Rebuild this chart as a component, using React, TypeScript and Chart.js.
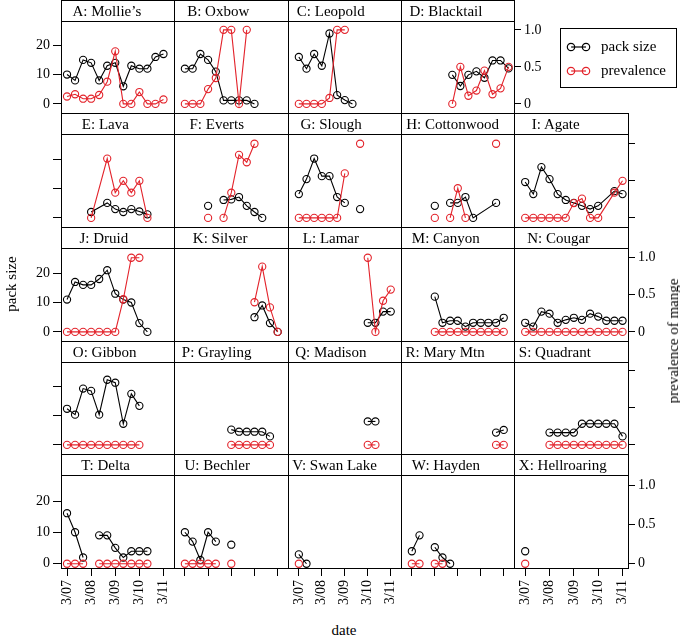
import React, { useEffect, useRef } from "react";
import { Chart, registerables } from "chart.js";
Chart.register(...registerables);

type Pt = [number, number] | null;

// survey sessions (month/year)
const SESSIONS = ["3/07", "7/07", "11/07", "3/08", "7/08", "11/08", "3/09", "7/09", "11/09", "3/10", "7/10", "11/10", "3/11"];
const X_TICK_LABELS = ["3/07", "3/08", "3/09", "3/10", "3/11"];
const PACK_TICKS = [0, 10, 20];
const PREV_TICKS = [0, 0.5, 1];
const PREV_TICK_LABELS = ["0", "0.5", "1.0"];

const PANEL_NAMES = ["A: Mollie’s", "B: Oxbow", "C: Leopold", "D: Blacktail", "E: Lava", "F: Everts", "G: Slough", "H: Cottonwood", "I: Agate", "J: Druid", "K: Silver", "L: Lamar", "M: Canyon", "N: Cougar", "O: Gibbon", "P: Grayling", "Q: Madison", "R: Mary Mtn", "S: Quadrant", "T: Delta", "U: Bechler", "V: Swan Lake", "W: Hayden", "X: Hellroaring"];

// [session index, value]; null = break in the line
const A_PACK: Pt[] = [[0, 10], [1, 8], [2, 15], [3, 14], [4, 8], [5, 13], [6, 14], [7, 6], [8, 13], [9, 12], [10, 12], [11, 16], [12, 17]];
const A_PREV: Pt[] = [[0, 0.1], [1, 0.13], [2, 0.07], [3, 0.07], [4, 0.12], [5, 0.3], [6, 0.71], [7, 0], [8, 0], [9, 0.16], [10, 0], [11, 0], [12, 0.06]];
const B_PACK: Pt[] = [[0, 12], [1, 12], [2, 17], [3, 15], [4, 11], [5, 1.2], [6, 1.2], [7, 1.2], [8, 1.2], [9, 0]];
const B_PREV: Pt[] = [[0, 0], [1, 0], [2, 0], [3, 0.2], [4, 0.35], [5, 1], [6, 1], [7, 0], [8, 1]];
const C_PACK: Pt[] = [[0, 16], [1, 12], [2, 17], [3, 13], [4, 24], [5, 3], [6, 1.3], [7, 0]];
const C_PREV: Pt[] = [[0, 0], [1, 0], [2, 0], [3, 0], [4, 0.08], [5, 1], [6, 1]];
const D_PACK: Pt[] = [[5, 9.9], [6, 6.1], [7, 9.9], [8, 11.1], [9, 8.9], [10, 14.8], [11, 14.8], [12, 12.1]];
const D_PREV: Pt[] = [[5, 0], [6, 0.5], [7, 0.11], [8, 0.18], [9, 0.45], [10, 0.13], [11, 0.21], [12, 0.5]];
const E_PACK: Pt[] = [[3, 2], [5, 5.1], [6, 3], [7, 2], [8, 3], [9, 2.2], [10, 1.2]];
const E_PREV: Pt[] = [[3, 0], [5, 0.8], [6, 0.34], [7, 0.5], [8, 0.34], [9, 0.5], [10, 0]];
const F_PACK: Pt[] = [[3, 4.1], null, [5, 6.1], [6, 6.3], [7, 7.1], [8, 4.1], [9, 2], [10, 0]];
const F_PREV: Pt[] = [[3, 0], null, [5, 0], [6, 0.34], [7, 0.85], [8, 0.75], [9, 1]];
const G_PACK: Pt[] = [[0, 8.1], [1, 13.2], [2, 20.2], [3, 14.2], [4, 14.2], [5, 7.1], [6, 5.1], null, [8, 3]];
const G_PREV: Pt[] = [[0, 0], [1, 0], [2, 0], [3, 0], [4, 0], [5, 0], [6, 0.6], null, [8, 1]];
const H_PACK: Pt[] = [[3, 4.1], null, [5, 5.1], [6, 5.1], [7, 7.1], [8, 0], [11, 5.1]];
const H_PREV: Pt[] = [[3, 0], null, [5, 0], [6, 0.4], [7, 0], null, [11, 1]];
const I_PACK: Pt[] = [[0, 12.2], [1, 8.1], [2, 17.3], [3, 13.2], [4, 8.1], [5, 6.1], [6, 5.1], [7, 4.1], [8, 3], [9, 4.1], [11, 9.1], [12, 8.1]];
const I_PREV: Pt[] = [[0, 0], [1, 0], [2, 0], [3, 0], [4, 0], [5, 0], [6, 0.2], [7, 0.26], [8, 0], [9, 0], [11, 0.34], [12, 0.5]];
const J_PACK: Pt[] = [[0, 11], [1, 17], [2, 16], [3, 16], [4, 18], [5, 21], [6, 13], [7, 11], [8, 10], [9, 3], [10, 0]];
const J_PREV: Pt[] = [[0, 0], [1, 0], [2, 0], [3, 0], [4, 0], [5, 0], [6, 0], [7, 0.44], [8, 1], [9, 1]];
const K_PACK: Pt[] = [[9, 5], [10, 9], [11, 3], [12, 0]];
const K_PREV: Pt[] = [[9, 0.4], [10, 0.88], [11, 0.33], [12, 0]];
const L_PACK: Pt[] = [[9, 3.1], [10, 3.1], [11, 6.9], [12, 6.9]];
const L_PREV: Pt[] = [[9, 1], [10, 0], [11, 0.42], [12, 0.57]];
const M_PACK: Pt[] = [[3, 12], [4, 3.1], [5, 3.8], [6, 3.8], [7, 1.8], [8, 3.1], [9, 3.1], [10, 3.1], [11, 3.1], [12, 4.8]];
const M_PREV: Pt[] = [[3, 0], [4, 0], [5, 0], [6, 0], [7, 0], [8, 0], [9, 0], [10, 0], [11, 0], [12, 0]];
const N_PACK: Pt[] = [[0, 3.1], [1, 1.8], [2, 6.9], [3, 6.2], [4, 3.1], [5, 4.1], [6, 4.8], [7, 4.1], [8, 6.2], [9, 5.2], [10, 3.8], [11, 3.8], [12, 3.8]];
const N_PREV: Pt[] = [[0, 0], [1, 0], [2, 0], [3, 0], [4, 0], [5, 0], [6, 0], [7, 0], [8, 0], [9, 0], [10, 0], [11, 0], [12, 0]];
const O_PACK: Pt[] = [[0, 12.3], [1, 10.3], [2, 19.2], [3, 18.4], [4, 10.3], [5, 22.2], [6, 21.2], [7, 7.2], [8, 17.4], [9, 13.3]];
const O_PREV: Pt[] = [[0, 0], [1, 0], [2, 0], [3, 0], [4, 0], [5, 0], [6, 0], [7, 0], [8, 0], [9, 0]];
const P_PACK: Pt[] = [[6, 5.2], [7, 4.5], [8, 4.5], [9, 4.5], [10, 4.5], [11, 2.9]];
const P_PREV: Pt[] = [[6, 0], [7, 0], [8, 0], [9, 0], [10, 0], [11, 0]];
const Q_PACK: Pt[] = [[9, 8], [10, 8]];
const Q_PREV: Pt[] = [[9, 0], [10, 0]];
const R_PACK: Pt[] = [[11, 4.2], [12, 5.1]];
const R_PREV: Pt[] = [[11, 0], [12, 0]];
const S_PACK: Pt[] = [[3, 4.2], [4, 4.2], [5, 4.2], [6, 4.2], [7, 7.2], [8, 7.2], [9, 7.2], [10, 7.2], [11, 7.2], [12, 2.9]];
const S_PREV: Pt[] = [[3, 0], [4, 0], [5, 0], [6, 0], [7, 0], [8, 0], [9, 0], [10, 0], [11, 0], [12, 0]];
const T_PACK: Pt[] = [[0, 16.2], [1, 10.1], [2, 2], null, [4, 9.1], [5, 9.1], [6, 5.1], [7, 2], [8, 4], [9, 4], [10, 4]];
const T_PREV: Pt[] = [[0, 0], [1, 0], [2, 0], null, [4, 0], [5, 0], [6, 0], [7, 0], [8, 0], [9, 0], [10, 0]];
const U_PACK: Pt[] = [[0, 10.1], [1, 7.1], [2, 1.2], [3, 10.1], [4, 7.1], null, [6, 6.1]];
const U_PREV: Pt[] = [[0, 0], [1, 0], [2, 0], [3, 0], [4, 0], null, [6, 0]];
const V_PACK: Pt[] = [[0, 3], [1, 0]];
const V_PREV: Pt[] = [[0, 0]];
const W_PACK: Pt[] = [[0, 4], [1, 9.1], null, [3, 5.3], [4, 2], [5, 0]];
const W_PREV: Pt[] = [[0, 0], [1, 0], null, [3, 0], [4, 0]];
const X_PACK: Pt[] = [[0, 4]];
const X_PREV: Pt[] = [[0, 0]];

const PACK_SERIES = [A_PACK, B_PACK, C_PACK, D_PACK, E_PACK, F_PACK, G_PACK, H_PACK, I_PACK, J_PACK, K_PACK, L_PACK, M_PACK, N_PACK, O_PACK, P_PACK, Q_PACK, R_PACK, S_PACK, T_PACK, U_PACK, V_PACK, W_PACK, X_PACK];
const PREV_SERIES = [A_PREV, B_PREV, C_PREV, D_PREV, E_PREV, F_PREV, G_PREV, H_PREV, I_PREV, J_PREV, K_PREV, L_PREV, M_PREV, N_PREV, O_PREV, P_PREV, Q_PREV, R_PREV, S_PREV, T_PREV, U_PREV, V_PREV, W_PREV, X_PREV];

// ---------- layout / style ----------
const FONT = "'Liberation Serif', 'Times New Roman', serif";
const RED = "#e3232b";
const COL_EDGES = [61, 174, 288, 401, 514, 628];
const ROW_EDGES = [0, 113, 227, 341, 454, 568];
const STRIP_H = 21;
const STRIP_TEXT_X = [11.5, 13.2, 8.8, 8.5, 20.8, 15.5, 12.5, 5.2, 17.8, 18.5, 18.8, 14.8, 10.8, 13.2, 11.8, 7.8, 7.2, 4.5, 4.8, 20.2, 10.5, 4.2, 10.8, 4.8];
const LEFT_W = 45;
const RIGHT_W = 40;
const BOTTOM_H = 48;
const ZERO_OFF = 4.5; // px from panel bottom to value 0
const PX_PER_PACK = 3.3;
const PX_PER_PREV = 83.3;

const toYear = (s: string) => {
  const [m, y] = s.split("/").map(Number);
  return 2000 + y + (m - 1) / 12;
};
const SESSION_X = SESSIONS.map(toYear);
const X_TICK_VALUES = X_TICK_LABELS.map(toYear);
const X_MIN = X_TICK_VALUES[0] - 0.25;
const X_MAX = X_TICK_VALUES[X_TICK_VALUES.length - 1] + 0.225;

function toPoints(series: Pt[]) {
  return series.map((p, i) => {
    if (p) return { x: SESSION_X[p[0]], y: p[1] };
    const prev = series[i - 1] as [number, number];
    return { x: SESSION_X[prev[0]] + 0.1, y: null as any };
  });
}

function panelPos(k: number) {
  if (k < 4) return { r: 0, c: k };
  return { r: Math.floor((k + 1) / 5), c: (k + 1) % 5 };
}

const tickFont = { family: FONT, size: 14 };

function Panel({ k }: { k: number }) {
  const ref = useRef<HTMLCanvasElement>(null);
  const { r, c } = panelPos(k);
  const plotL = COL_EDGES[c];
  const plotR = COL_EDGES[c + 1];
  const plotT = ROW_EDGES[r] + STRIP_H;
  const plotB = ROW_EDGES[r + 1];
  const hasLeft = c === 0;
  const hasRight = c === 4 || (r === 0 && c === 3);
  const hasBottom = r === 4;
  const yLabels = r % 2 === 0;
  const xLabels = c % 2 === 0;
  const W = plotR - plotL + (hasLeft ? LEFT_W : 0) + (hasRight ? RIGHT_W : 0);
  const H = plotB - plotT + (hasBottom ? BOTTOM_H : 0);
  const left = plotL - (hasLeft ? LEFT_W : 0);
  const plotH = plotB - plotT;

  useEffect(() => {
    const grid = { display: true, drawOnChartArea: false, drawTicks: true, tickLength: 7, color: "#000", lineWidth: 1 };
    const chart = new Chart(ref.current as HTMLCanvasElement, {
      type: "line",
      data: {
        datasets: [
          {
            label: "pack size",
            data: toPoints(PACK_SERIES[k]) as any,
            yAxisID: "y",
            borderColor: "#000",
            pointBorderColor: "#000",
            pointBackgroundColor: "rgba(0,0,0,0)",
            borderWidth: 1.1,
            pointRadius: 3.6,
            pointBorderWidth: 1.1,
            spanGaps: false,
            tension: 0,
            clip: false as any,
            order: 2,
          },
          {
            label: "prevalence",
            data: toPoints(PREV_SERIES[k]) as any,
            yAxisID: "y1",
            borderColor: RED,
            pointBorderColor: RED,
            pointBackgroundColor: "rgba(0,0,0,0)",
            borderWidth: 1.1,
            pointRadius: 3.6,
            pointBorderWidth: 1.1,
            spanGaps: false,
            tension: 0,
            clip: false as any,
            order: 1,
          },
        ],
      },
      options: {
        animation: false,
        responsive: false,
        maintainAspectRatio: false,
        events: [],
        layout: { padding: 0 },
        plugins: { legend: { display: false }, tooltip: { enabled: false }, title: { display: false } },
        scales: {
          x: {
            type: "linear",
            display: hasBottom,
            position: "bottom",
            min: X_MIN,
            max: X_MAX,
            afterBuildTicks: (s: any) => {
              s.ticks = X_TICK_VALUES.map((v) => ({ value: v }));
            },
            ticks: {
              autoSkip: false,
              minRotation: 90,
              maxRotation: 90,
              padding: 4,
              color: "#000",
              font: tickFont,
              callback: (_v: any, i: number) => (xLabels ? X_TICK_LABELS[i] : ""),
            },
            grid: { ...grid, tickLength: 8 },
            border: { display: false },
            afterFit: (s: any) => {
              if (hasBottom) s.height = BOTTOM_H;
              s.paddingLeft = 0;
              s.paddingRight = 0;
            },
          },
          y: {
            type: "linear",
            display: hasLeft,
            position: "left",
            min: -ZERO_OFF / PX_PER_PACK,
            max: (plotH - ZERO_OFF) / PX_PER_PACK,
            afterBuildTicks: (s: any) => {
              s.ticks = PACK_TICKS.map((v) => ({ value: v }));
            },
            ticks: {
              padding: 3,
              color: "#000",
              font: tickFont,
              callback: (_v: any, i: number) => (yLabels ? String(PACK_TICKS[i]) : ""),
            },
            grid: { ...grid, tickLength: 8 },
            border: { display: false },
            afterFit: (s: any) => {
              if (hasLeft) s.width = LEFT_W;
              s.paddingTop = 0;
              s.paddingBottom = 0;
            },
          },
          y1: {
            type: "linear",
            display: hasRight,
            position: "right",
            min: -ZERO_OFF / PX_PER_PREV,
            max: (plotH - ZERO_OFF) / PX_PER_PREV,
            afterBuildTicks: (s: any) => {
              s.ticks = PREV_TICKS.map((v) => ({ value: v }));
            },
            ticks: {
              padding: 3,
              color: "#000",
              font: tickFont,
              callback: (_v: any, i: number) => (yLabels ? PREV_TICK_LABELS[i] : ""),
            },
            grid: { ...grid, tickLength: 7 },
            border: { display: false },
            afterFit: (s: any) => {
              if (hasRight) s.width = RIGHT_W;
              s.paddingTop = 0;
              s.paddingBottom = 0;
            },
          },
        },
      } as any,
    });
    return () => chart.destroy();
  }, [k]);

  return (
    <canvas
      ref={ref}
      width={W}
      height={H}
      style={{ position: "absolute", left, top: plotT, width: W, height: H }}
    />
  );
}

function Frame({ k }: { k: number }) {
  const { r, c } = panelPos(k);
  const x0 = COL_EDGES[c];
  const w = COL_EDGES[c + 1] - x0 + 1;
  const y0 = ROW_EDGES[r];
  const h = ROW_EDGES[r + 1] - y0 + 1;
  return (
    <>
      <div style={{ position: "absolute", left: x0, top: y0, width: w, height: h, border: "1px solid #000", boxSizing: "border-box", pointerEvents: "none" }} />
      <div style={{ position: "absolute", left: x0, top: y0 + STRIP_H, width: w, height: 1, background: "#000" }} />
      <div
        style={{
          position: "absolute",
          left: x0 + STRIP_TEXT_X[k],
          top: y0 + 1,
          height: STRIP_H - 1,
          lineHeight: `${STRIP_H - 1}px`,
          fontSize: 15,
          fontFamily: FONT,
          color: "#000",
          whiteSpace: "nowrap",
        }}
      >
        {PANEL_NAMES[k]}
      </div>
    </>
  );
}

function LegendSymbol({ color }: { color: string }) {
  return (
    <svg width={30} height={12} style={{ position: "absolute", left: 0, top: 0 }}>
      <line x1={7} y1={6} x2={22} y2={6} stroke={color} strokeWidth={1.2} />
      <circle cx={7} cy={6} r={3.7} fill="none" stroke={color} strokeWidth={1.2} />
      <circle cx={22} cy={6} r={3.7} fill="none" stroke={color} strokeWidth={1.2} />
    </svg>
  );
}

export default function App() {
  const ks = PANEL_NAMES.map((_, i) => i);
  const legendItems = [
    { label: "pack size", color: "#000", y: 41 },
    { label: "prevalence", color: RED, y: 65 },
  ];
  return (
    <div style={{ position: "absolute", left: 0, top: 0, width: 680, height: 638, background: "#fff", overflow: "hidden", fontFamily: FONT }}>
      {ks.map((k) => (
        <Panel key={"p" + k} k={k} />
      ))}
      {ks.map((k) => (
        <Frame key={"f" + k} k={k} />
      ))}
      {/* legend */}
      <div style={{ position: "absolute", left: 560, top: 28, width: 117, height: 60, border: "1px solid #000", boxSizing: "border-box" }} />
      {legendItems.map((it) => (
        <div key={it.label} style={{ position: "absolute", left: 564, top: it.y, width: 112, height: 12 }}>
          <LegendSymbol color={it.color} />
          <div style={{ position: "absolute", left: 37, top: -4, fontSize: 15, lineHeight: "18px", fontFamily: FONT, whiteSpace: "nowrap", color: "#000" }}>{it.label}</div>
        </div>
      ))}
      {/* axis titles */}
      <div style={{ position: "absolute", left: 11, top: 284, transform: "translate(-50%, -50%) rotate(-90deg)", fontSize: 15, lineHeight: "16px", whiteSpace: "nowrap", color: "#000" }}>pack size</div>
      <div style={{ position: "absolute", left: 673, top: 341, transform: "translate(-50%, -50%) rotate(-90deg)", fontSize: 15, lineHeight: "16px", whiteSpace: "nowrap", color: "#000" }}>prevalence of mange</div>
      <div style={{ position: "absolute", left: 344, top: 630, transform: "translate(-50%, -50%)", fontSize: 15, lineHeight: "16px", whiteSpace: "nowrap", color: "#000" }}>date</div>
    </div>
  );
}
